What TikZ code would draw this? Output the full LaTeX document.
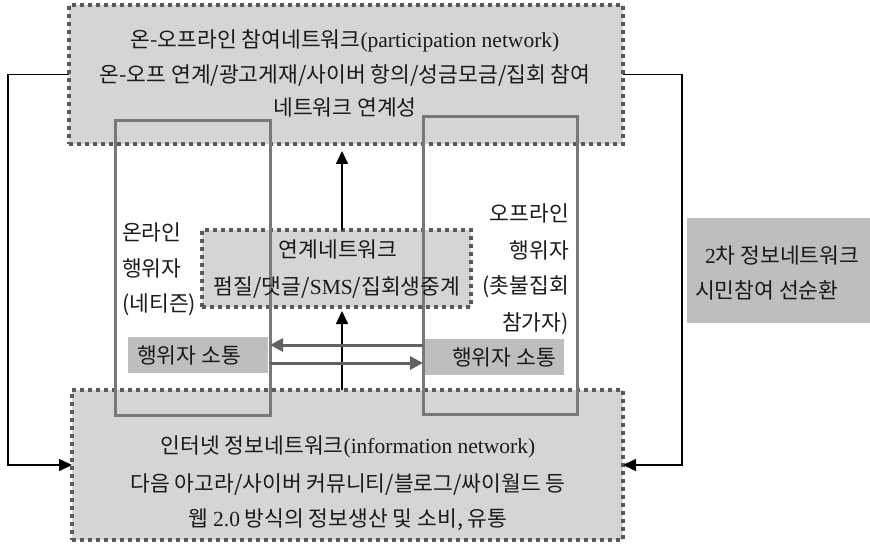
\documentclass[tikz,border=0pt]{standalone}
\usepackage{fontspec}
\setmainfont{Liberation Serif}
\newfontfamily\kr{Noto Sans CJK KR}
\newfontfamily\latf{Liberation Serif}
\newcommand{\lat}[1]{{\latf\fontsize{21.5pt}{24pt}\selectfont #1}}
\usetikzlibrary{arrows.meta}
\definecolor{lightfill}{HTML}{D5D5D5}
\definecolor{darkfill}{HTML}{BEBEBE}
\definecolor{dotgray}{HTML}{5A5A5A}
\definecolor{rectgray}{HTML}{787878}
\definecolor{arrgray}{HTML}{626262}
\definecolor{txtcol}{HTML}{1A1A1A}
\tikzset{
  netbox/.style={draw=dotgray, fill=lightfill, line width=3.2pt, dash pattern=on 4pt off 4pt, anchor=north west, inner sep=0pt, outer sep=0pt},
  actorbox/.style={draw=rectgray, line width=3pt, anchor=north west, inner sep=0pt, outer sep=0pt},
  talkbox/.style={fill=darkfill, anchor=north west, inner sep=0pt, outer sep=0pt},
  txt/.style={font=\kr\fontsize{21.5pt}{24pt}\selectfont, text=txtcol, inner sep=0pt},
  conn/.style={draw=black, line width=1.6pt},
  tip/.style={-{Triangle[length=13pt,width=12pt]}},
  garrow/.style={draw=arrgray, line width=3pt, -{Triangle[length=13pt,width=13pt]}}
}
\begin{document}
\begin{tikzpicture}[x=1pt,y=-1pt]
\useasboundingbox[fill=white] (0,0) rectangle (870,545);
% big network boxes
\node[netbox, minimum width=554pt, minimum height=139pt] (top) at (69,5) {};
\node[netbox, minimum width=551pt, minimum height=150pt] (bot) at (72,390) {};
% middle linkage box
\node[netbox, minimum width=269pt, minimum height=77pt] (mid) at (202,230) {};
% right summary box
\node[talkbox, minimum width=183pt, minimum height=105pt] (cyc) at (687,218) {};
% communication boxes
\node[talkbox, minimum width=140pt, minimum height=36pt] (tl) at (128,337) {};
\node[talkbox, minimum width=140pt, minimum height=36pt] (tr) at (424,339) {};
% actor rectangles
\node[actorbox, minimum width=155pt, minimum height=294pt] (on) at (115,121) {};
\node[actorbox, minimum width=154pt, minimum height=297pt] (off) at (423,117) {};
% feedback connectors
\draw[conn, tip] (top.west) -- (top.west -| 8,0) |- (bot.west);
\draw[conn, tip] (top.east) -- (top.east -| 682,0) |- (bot.east);
% vertical arrows
\draw[conn, tip, shorten >=4pt] (bot.north -| 342,0) -- (mid.south -| 342,0);
\draw[conn, tip, shorten >=7pt] (mid.north -| 342,0) -- (top.south -| 342,0);
% communication arrows
\draw[garrow] (off.west |- 0,345) -- (on.east |- 0,345);
\draw[garrow] (on.east |- 0,363) -- (off.west |- 0,363);
% texts
\node[txt] (t1) at (345,41) {온-오프라인 참여네트워크\lat{(participation network)}};
\node[txt] (t2) at (345,75) {온-오프 연계/광고게재/사이버 항의/성금모금/집회 참여};
\node[txt] (t3) at (345,107) {네트워크 연계성};
\node[txt] (b1) at (348,447) {인터넷 정보네트워크\lat{(information network)}};
\node[txt] (b2) at (348,485) {다음 아고라/사이버 커뮤니티/블로그/싸이월드 등};
\node[txt] (b3) at (348,520) {웹 \lat{2.0} 방식의 정보생산 및 소비, 유통};
\node[txt] (m1) at (338,249) {연계네트워크};
\node[txt] (m2) at (337,288) {펌질/댓글/\lat{SMS}/집회생중계};
\node[txt, anchor=west] (o1) at (122,232) {온라인};
\node[txt, anchor=west] (o2) at (122,268) {행위자};
\node[txt, anchor=west] (o3) at (122,305) {(네티즌)};
\node[txt, anchor=east] (f1) at (569,213) {오프라인};
\node[txt, anchor=east] (f2) at (569,250) {행위자};
\node[txt, anchor=east] (f3) at (569,287) {(촛불집회};
\node[txt, anchor=east] (f4) at (569,324) {참가자)};
\node[txt, anchor=west] (tlt) at (137,355) {행위자 소통};
\node[txt, anchor=east] (trt) at (556,357) {행위자 소통};
\node[txt, anchor=west] (c1) at (705,255) {\lat{2}차 정보네트워크};
\node[txt, anchor=west] (c2) at (695,290) {시민참여 선순환};
\end{tikzpicture}
\end{document}
